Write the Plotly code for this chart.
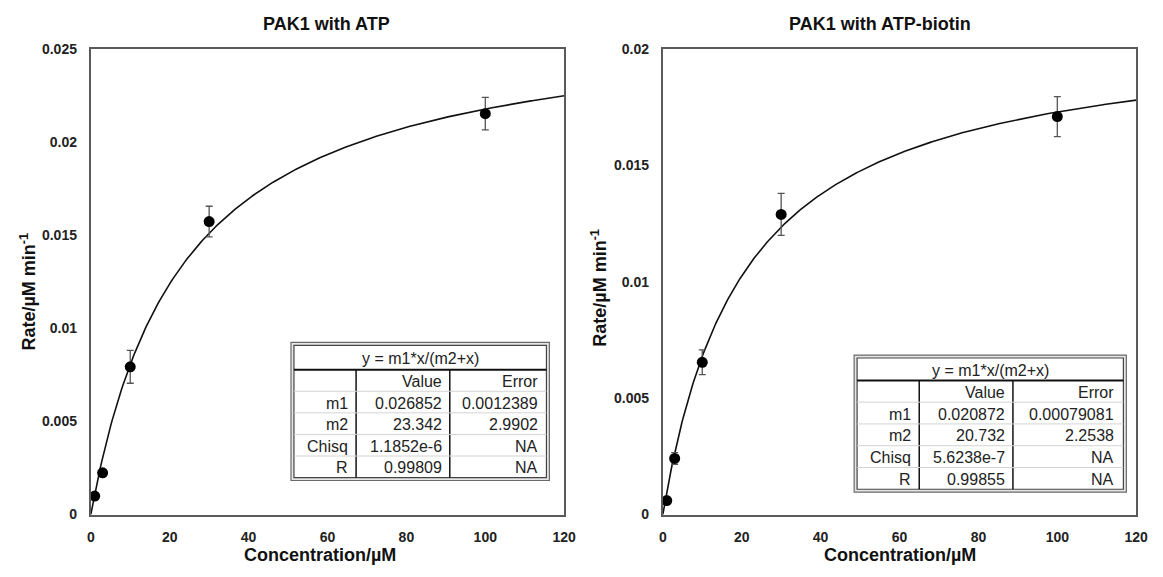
import numpy as np
import plotly.graph_objects as go

# ---- measured data -------------------------------------------------------
conc = [1, 3, 10, 30, 100]  # µM

atp_rate = [0.00099, 0.00224, 0.00793, 0.01573, 0.02152]
atp_err = [0.0, 0.0, 0.00088, 0.00082, 0.00087]

biotin_rate = [0.00060, 0.00241, 0.00654, 0.01289, 0.01709]
biotin_err = [0.0, 0.00025, 0.00053, 0.00090, 0.00086]

# ---- Michaelis-Menten fit results: y = m1*x/(m2+x) -----------------------
atp_fit = {"m1": 0.026852, "m2": 23.342, "m1_err": "0.0012389", "m2_err": "2.9902",
           "chisq": "1.1852e-6", "R": "0.99809"}
biotin_fit = {"m1": 0.020872, "m2": 20.732, "m1_err": "0.00079081", "m2_err": "2.2538",
              "chisq": "5.6238e-7", "R": "0.99855"}

x_ticks = [0, 20, 40, 60, 80, 100, 120]
atp_y_ticks = [0, 0.005, 0.01, 0.015, 0.02, 0.025]
atp_y_labels = ["0", "0.005", "0.01", "0.015", "0.02", "0.025"]
biotin_y_ticks = [0, 0.005, 0.01, 0.015, 0.02]
biotin_y_labels = ["0", "0.005", "0.01", "0.015", "0.02"]

titles = ["PAK1 with ATP", "PAK1 with ATP-biotin"]

# ---- layout helpers (pixel -> paper) -------------------------------------
W, H = 1163, 577


def px(x):
    return x / W


def py(y):
    return 1 - y / H


FONT = "Liberation Sans, Arial, sans-serif"
AXIS_COLOR = "#5a5a5a"
TABLE_FONT = dict(family=FONT, size=16, color="#222222")

fig = go.Figure()

panels = [
    dict(rate=atp_rate, err=atp_err, fit=atp_fit, yt=atp_y_ticks, yl=atp_y_labels,
         ymax=0.025, xd=(88, 568), xa="x", ya="y", title_x=327, xtitle_x=320, ytitle=(25, 292),
         table=(291, 553, 344, 372, 486, 357, 452)),
    dict(rate=biotin_rate, err=biotin_err, fit=biotin_fit, yt=biotin_y_ticks, yl=biotin_y_labels,
         ymax=0.02, xd=(668, 1148), xa="x2", ya="y2", title_x=888, xtitle_x=908, ytitle=(603, 288),
         table=(862, 1138, 357, 383, 498, 928, 1023)),
]

x_curve = np.linspace(0, 120, 400)
shapes = []
annotations = []

for i, p in enumerate(panels):
    m1, m2 = p["fit"]["m1"], p["fit"]["m2"]
    y_curve = m1 * x_curve / (m2 + x_curve)
    fig.add_trace(go.Scatter(
        x=x_curve, y=y_curve, mode="lines",
        line=dict(color="#111111", width=1.6),
        xaxis=p["xa"], yaxis=p["ya"], showlegend=False, hoverinfo="skip"))
    fig.add_trace(go.Scatter(
        x=conc, y=p["rate"], mode="markers",
        marker=dict(color="#000000", size=11),
        error_y=dict(type="data", array=p["err"], visible=True,
                     color="#555555", thickness=1.3, width=3.5),
        xaxis=p["xa"], yaxis=p["ya"], showlegend=False))

    axis_common = dict(showgrid=False, zeroline=False, showline=True, mirror=True,
                       linecolor=AXIS_COLOR, linewidth=2, ticks="",
                       tickfont=dict(family=FONT, size=14, color="#222222", weight="bold"))
    xkey = "xaxis" if i == 0 else "xaxis2"
    ykey = "yaxis" if i == 0 else "yaxis2"
    fig.update_layout({
        xkey: dict(axis_common, domain=[px(p["xd"][0]), px(p["xd"][1])], range=[0, 120],
                   tickvals=x_ticks, ticktext=[str(t) for t in x_ticks],
                   anchor=p["ya"], ticklabelstandoff=9),
        ykey: dict(axis_common, domain=[py(521), py(42)], range=[0, p["ymax"]],
                   tickvals=p["yt"], ticktext=p["yl"], anchor=p["xa"],
                   ticklabelstandoff=9),
    })

    # titles
    annotations.append(dict(text="<b>%s</b>" % titles[i], x=px(p["title_x"]), y=py(16),
                            xref="paper", yref="paper", showarrow=False,
                            xanchor="center", yanchor="middle",
                            font=dict(family=FONT, size=18, color="#111111")))
    annotations.append(dict(text="<b>Concentration/µM</b>", x=px(p["xtitle_x"]), y=py(563),
                            xref="paper", yref="paper", showarrow=False,
                            xanchor="center", yanchor="middle",
                            font=dict(family=FONT, size=18, color="#111111")))
    annotations.append(dict(text="<b>Rate/µM min<sup>-1</sup></b>", x=px(p["ytitle"][0]),
                            y=py(p["ytitle"][1]), xref="paper", yref="paper", showarrow=False,
                            textangle=-90, xanchor="center", yanchor="middle",
                            font=dict(family=FONT, size=18, color="#111111")))

    # fit-results table
    x0, x1, y0, yh, y1, c1, c2 = p["table"]
    shapes.append(dict(type="rect", xref="paper", yref="paper",
                       x0=px(x0), x1=px(x1), y0=py(y1), y1=py(y0),
                       line=dict(color="#6a6a6a", width=1.2), fillcolor="#e6e6e6"))
    shapes.append(dict(type="rect", xref="paper", yref="paper",
                       x0=px(x0 + 3), x1=px(x1 - 3), y0=py(y1 - 3), y1=py(y0 + 3),
                       line=dict(color="#444444", width=1.2), fillcolor="#ffffff"))
    shapes.append(dict(type="line", xref="paper", yref="paper",
                       x0=px(x0 + 3), x1=px(x1 - 3), y0=py(yh), y1=py(yh),
                       line=dict(color="#111111", width=2)))
    for cx in (c1, c2):
        shapes.append(dict(type="line", xref="paper", yref="paper",
                           x0=px(cx), x1=px(cx), y0=py(yh), y1=py(y1 - 3),
                           line=dict(color="#111111", width=1.5)))
    row_h = (y1 - 3 - yh) / 5
    for r in range(1, 5):
        yy = yh + r * row_h
        shapes.append(dict(type="line", xref="paper", yref="paper",
                           x0=px(x0 + 3), x1=px(x1 - 3), y0=py(yy), y1=py(yy),
                           line=dict(color="#d4d4d4", width=1)))

    f = p["fit"]
    rows = [
        ["", "Value", "Error"],
        ["m1", str(f["m1"]), f["m1_err"]],
        ["m2", str(f["m2"]), f["m2_err"]],
        ["Chisq", f["chisq"], "NA"],
        ["R", f["R"], "NA"],
    ]
    annotations.append(dict(text="y = m1*x/(m2+x)", x=px((x0 + x1) / 2), y=py((y0 + 3 + yh) / 2 + 1),
                            xref="paper", yref="paper", showarrow=False,
                            xanchor="center", yanchor="middle", font=TABLE_FONT))
    right_edges = [c1 - 6, c2 - 6, x1 - 10]
    for r, row in enumerate(rows):
        yc = yh + (r + 0.5) * row_h + 1
        for c, txt in enumerate(row):
            if not txt:
                continue
            annotations.append(dict(text=txt, x=px(right_edges[c]), y=py(yc),
                                    xref="paper", yref="paper", showarrow=False,
                                    xanchor="right", yanchor="middle", font=TABLE_FONT))

fig.update_layout(
    width=W, height=H,
    margin=dict(l=0, r=0, t=0, b=0),
    paper_bgcolor="white", plot_bgcolor="white",
    font=dict(family=FONT, color="#222222"),
    shapes=shapes, annotations=annotations,
    showlegend=False,
)

fig.write_html("out.html")
